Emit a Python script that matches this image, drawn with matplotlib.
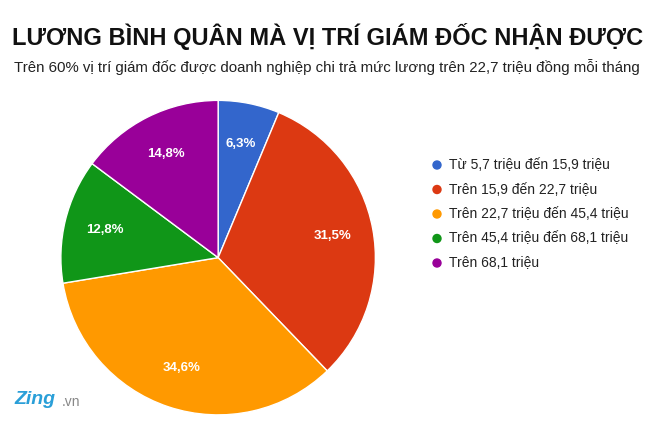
import matplotlib
matplotlib.use("Agg")
import matplotlib.pyplot as plt
import numpy as np

labels = ["Từ 5,7 triệu đến 15,9 triệu", "Trên 15,9 đến 22,7 triệu",
          "Trên 22,7 triệu đến 45,4 triệu", "Trên 45,4 triệu đến 68,1 triệu",
          "Trên 68,1 triệu"]
values = [6.3, 31.5, 34.6, 12.8, 14.8]
colors = ["#3366cc", "#dc3912", "#ff9900", "#109618", "#990099"]

plt.rcParams['font.family'] = ['Liberation Sans', 'DejaVu Sans']
fig = plt.figure(figsize=(6.6, 4.22), dpi=100)
fig.patch.set_facecolor("white")

ax = fig.add_axes([0.091, 0.015, 0.479, 0.749])
wedges, _ = ax.pie(values, colors=colors, startangle=90, counterclock=False,
                   wedgeprops=dict(edgecolor="white", linewidth=1))
cum = 0
for v in values:
    mid = 90 - (cum + v / 2) / sum(values) * 360
    r = 0.74
    ax.text(r * np.cos(np.radians(mid)), r * np.sin(np.radians(mid)),
            f"{v:.1f}%".replace(".", ","), color="white", fontsize=9.5,
            fontweight="bold", ha="center", va="center")
    cum += v
ax.set_xlim(-1.005, 1.005)
ax.set_ylim(-1.005, 1.005)
ax.set_aspect("equal")

fig.text(12 / 660, 1 - 36 / 422, "LƯƠNG BÌNH QUÂN MÀ VỊ TRÍ GIÁM ĐỐC NHẬN ĐƯỢC",
         fontsize=17.0, fontweight="bold", va="center", ha="left", color="#111111")
fig.text(14 / 660, 1 - 67 / 422,
         "Trên 60% vị trí giám đốc được doanh nghiệp chi trả mức lương trên 22,7 triệu đồng mỗi tháng",
         fontsize=10.8, va="center", ha="left", color="#222222")

for i, (lab, c) in enumerate(zip(labels, colors)):
    y = 1 - (165 + i * 24.5) / 422
    fig.patches.append(matplotlib.patches.Ellipse((437 / 660, y), 8 / 660, 8 / 422,
                       transform=fig.transFigure, color=c, figure=fig))
    fig.text(449 / 660, y, lab, fontsize=10, va="center", ha="left", color="#222222")

fig.text(14 / 660, 1 - 400 / 422, "Zing", fontsize=14, fontweight="bold",
         color="#2a9fd8", va="center", ha="left", style="italic")
fig.text(62 / 660, 1 - 402 / 422, ".vn", fontsize=10, color="#888888", va="center", ha="left")

fig.savefig("out.png", dpi=100, facecolor="white")
